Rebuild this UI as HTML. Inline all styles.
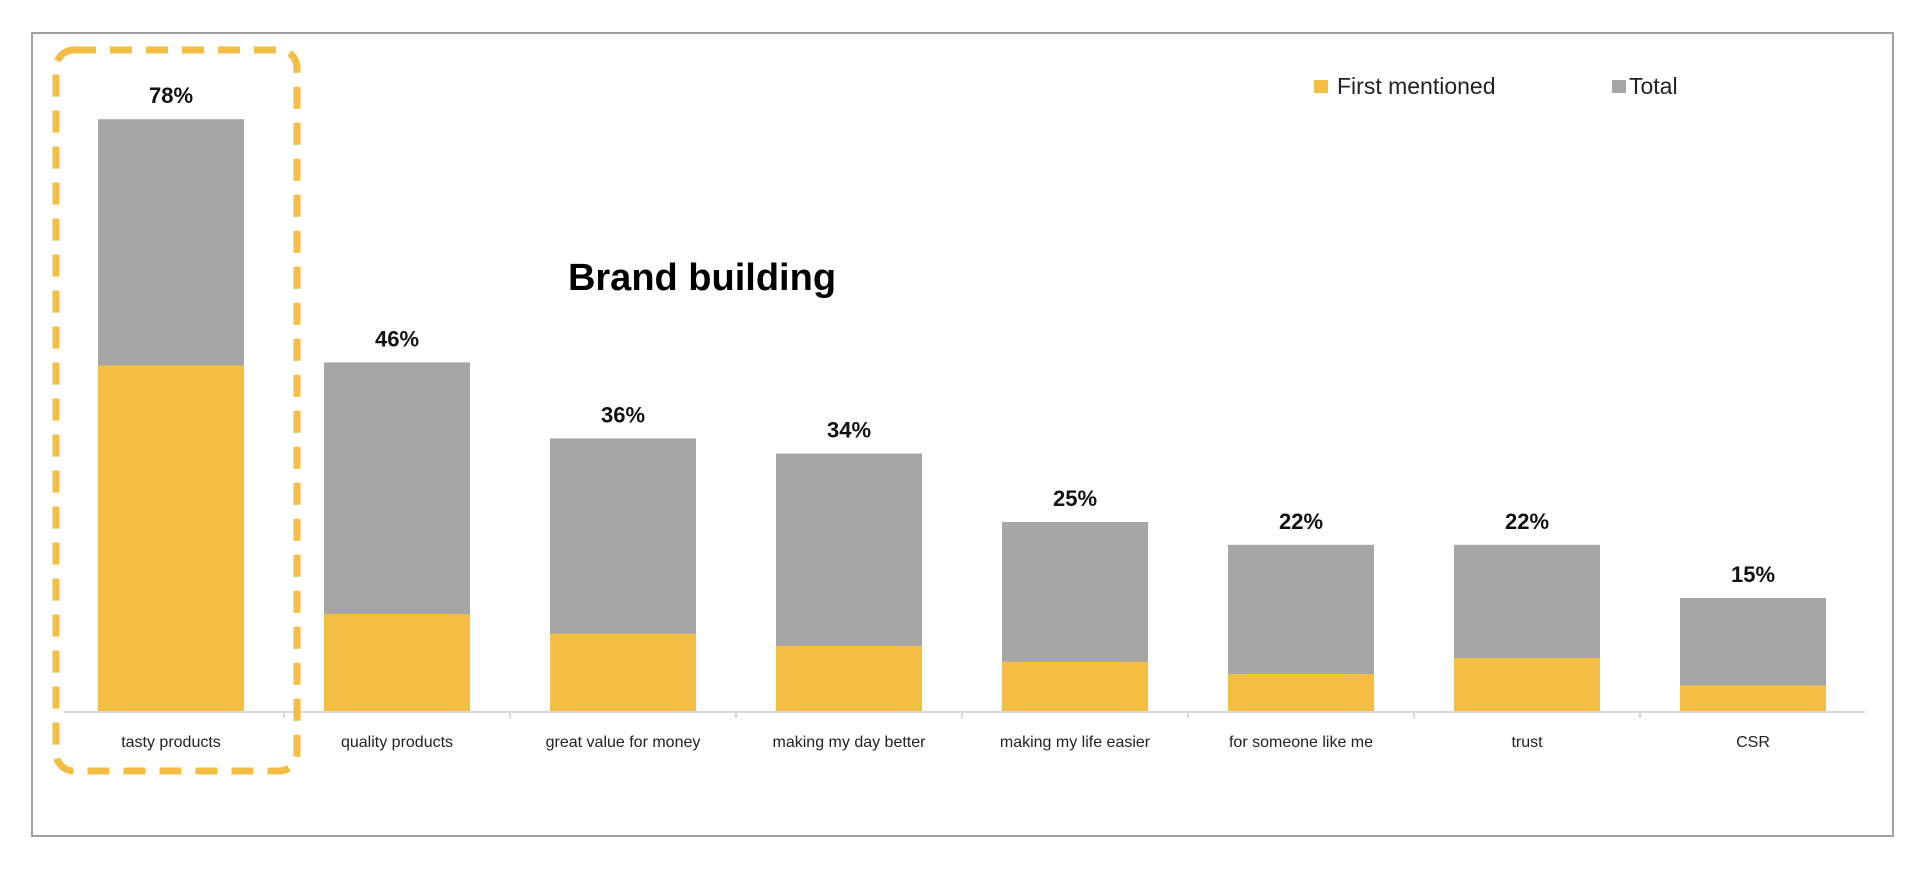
<!DOCTYPE html>
<html><head><meta charset="utf-8"><style>
html,body{margin:0;padding:0;background:#fff;}
svg{display:block;font-family:"Liberation Sans",Calibri,sans-serif;}
</style></head><body>
<svg id="chart" width="1920" height="874">
<rect x="32" y="33" width="1861" height="803" fill="#fff" stroke="#a0a0a0" stroke-width="2"/>
<text x="702" y="290" font-size="38" font-weight="bold" text-anchor="middle" fill="#000">Brand building</text>
<g>
<rect x="1314" y="80" width="14" height="13" fill="#f3be43"/>
<text x="1337" y="94" font-size="23" fill="#222">First mentioned</text>
<rect x="1612" y="80" width="14" height="13" fill="#a6a6a6"/>
<text x="1629" y="94" font-size="23" fill="#222">Total</text>
</g>
<g id="bars"></g>
<line x1="64" y1="712" x2="1865" y2="712" stroke="#d9d9d9" stroke-width="2"/>
<g id="ticks"></g>
<rect x="56" y="50" width="241" height="721" rx="18" fill="none" stroke="#f3be43" stroke-width="7" stroke-dasharray="22,14"/>
</svg>
<script>
const categories = ["tasty products","quality products","great value for money","making my day better","making my life easier","for someone like me","trust","CSR"];
const totalValues = [78,46,36,34,25,22,22,15];
const firstValues = [45.6,12.9,10.3,8.7,6.6,5.0,7.1,3.5];
const valueLabels = ["78%","46%","36%","34%","25%","22%","22%","15%"];

const NS = "http://www.w3.org/2000/svg";
const baseY = 712, pxPer = 7.6, band = 226, x0 = 58, barW = 146;
function yScale(v){ return baseY - v * pxPer; }
function xCenter(i){ return x0 + band * i + band / 2; }
const bars = document.getElementById('bars');
const ticks = document.getElementById('ticks');
function mk(tag, attrs){ const e = document.createElementNS(NS, tag); for (const k in attrs) e.setAttribute(k, attrs[k]); return e; }
categories.forEach((c, i) => {
  const cx = xCenter(i);
  const g = mk('g', {});
  
  
  const t = mk('rect', {x: cx - barW/2, y: yScale(totalValues[i]), width: barW, height: baseY - yScale(totalValues[i]), fill: '#a6a6a6'});
  
  
  g.appendChild(t);
  const f = mk('rect', {x: cx - barW/2, y: yScale(firstValues[i]), width: barW, height: baseY - yScale(firstValues[i]), fill: '#f3be43'});
  
  
  g.appendChild(f);
  const vl = mk('text', {x: cx, y: yScale(totalValues[i]) - 16, 'font-size': 22, 'font-weight': 'bold', 'text-anchor': 'middle', fill: '#111'});
  vl.textContent = valueLabels[i];
  
  
  g.appendChild(vl);
  const cl = mk('text', {x: cx, y: 747, 'font-size': 16, 'text-anchor': 'middle', fill: '#222'});
  cl.textContent = c;
  
  
  g.appendChild(cl);
  bars.appendChild(g);
  if (i > 0) {
    const tk = mk('line', {x1: x0 + band*i, x2: x0 + band*i, y1: baseY, y2: baseY + 6, stroke: '#d9d9d9', 'stroke-width': 2});
    
    
    ticks.appendChild(tk);
  }
});
</script>
</body></html>
